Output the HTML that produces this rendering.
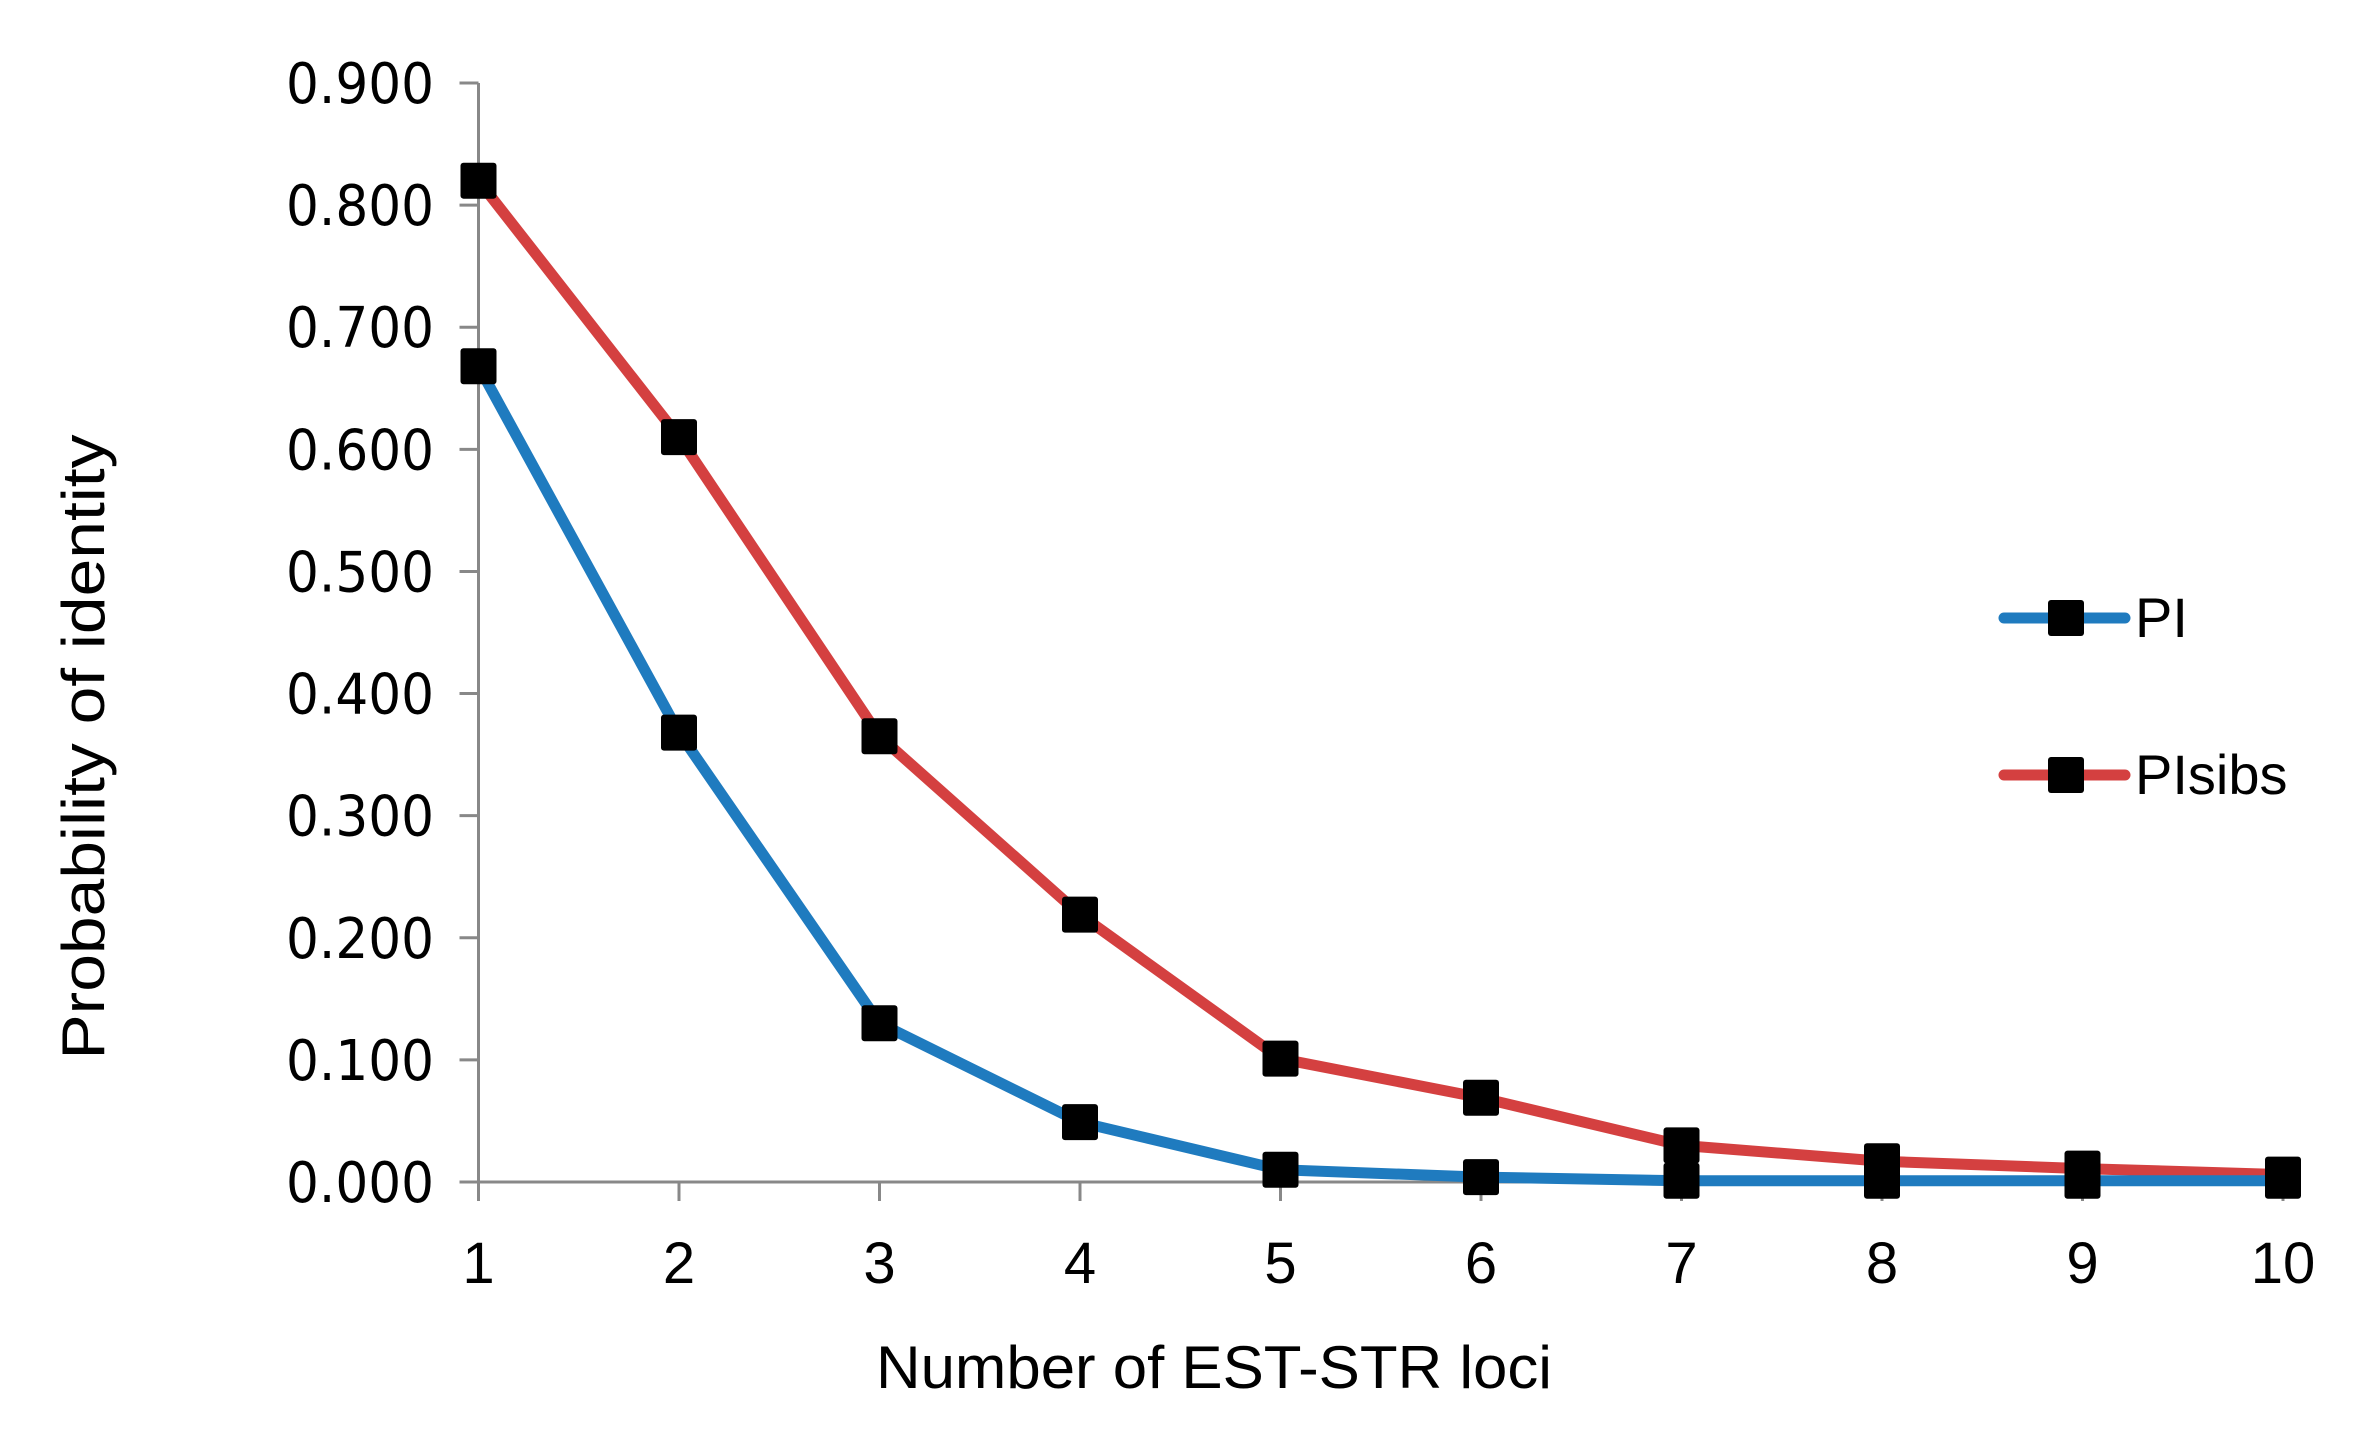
<!DOCTYPE html>
<html><head><meta charset="utf-8"><style>
html,body{margin:0;padding:0;background:#fff;}
svg{display:block;}
</style></head><body>
<svg id="chart" width="2367" height="1441" viewBox="0 0 2367 1441" xmlns="http://www.w3.org/2000/svg"></svg>
<script>
const categories=[1,2,3,4,5,6,7,8,9,10];
const piValues=[0.668,0.368,0.130,0.049,0.010,0.004,0.001,0.001,0.001,0.001];
const piSibsValues=[0.820,0.610,0.365,0.219,0.101,0.069,0.030,0.017,0.011,0.006];
const yTicks=[0,0.1,0.2,0.3,0.4,0.5,0.6,0.7,0.8,0.9];
const yTickLabels=["0.000","0.100","0.200","0.300","0.400","0.500","0.600","0.700","0.800","0.900"];
const seriesNames=["PI","PIsibs"];

const NS="http://www.w3.org/2000/svg";
const svg=document.getElementById('chart');
const X0=478.5,X1=2283,Y0=1182,Y1=83;
function xs(c){return X0+(c-1)/(9)*(X1-X0);}
function ys(v){return Y0-(v/0.9)*(Y0-Y1);}
function el(t,a,p){const e=document.createElementNS(NS,t);for(const k in a)e.setAttribute(k,a[k]);(p||svg).appendChild(e);return e;}

const axes=el('g',{});


const ya=el('line',{x1:X0,y1:Y1,x2:X0,y2:Y0,stroke:'#888','stroke-width':3},axes);


const xa=el('line',{x1:X0,y1:Y0,x2:X1+5,y2:Y0,stroke:'#888','stroke-width':3},axes);


yTicks.forEach((v,i)=>{
  const y=ys(v);
  el('line',{x1:X0-19,y1:y,x2:X0,y2:y,stroke:'#888','stroke-width':3},axes);
  const t=el('text',{x:434,y:y+20,'text-anchor':'end','font-family':'DejaVu Sans, sans-serif','font-size':56,fill:'#000',textLength:148,lengthAdjust:'spacingAndGlyphs'},axes);
  t.textContent=yTickLabels[i];
  
  
});
categories.forEach(c=>{
  const x=xs(c);
  el('line',{x1:x,y1:Y0,x2:x,y2:Y0+19,stroke:'#888','stroke-width':3},axes);
  const t=el('text',{x:x,y:1283,'text-anchor':'middle','font-family':'Liberation Sans, sans-serif','font-size':58,fill:'#000'},axes);
  t.textContent=String(c);
  
  
});
const xt=el('text',{x:1214,y:1388,'text-anchor':'middle','font-family':'Liberation Sans, sans-serif','font-size':60,fill:'#000',textLength:676,lengthAdjust:'spacingAndGlyphs'});
xt.textContent='Number of EST-STR loci';


const yt=el('text',{x:0,y:0,'text-anchor':'middle','font-family':'Liberation Sans, sans-serif','font-size':60,fill:'#000',textLength:625,lengthAdjust:'spacingAndGlyphs',transform:'translate(104,747) rotate(-90)'});
yt.textContent='Probability of identity';



function drawSeries(vals,color,name){
  const g=el('g',{});
  
  
  const pts=vals.map((v,i)=>xs(categories[i])+','+ys(v)).join(' ');
  const pl=el('polyline',{points:pts,fill:'none',stroke:color,'stroke-width':11,'stroke-linejoin':'round'},g);
  
  
  vals.forEach((v,i)=>{
    const r=el('rect',{x:xs(categories[i])-18,y:ys(v)-18,width:36,height:36,rx:3,fill:'#000'},g);
    
    
  });
}
drawSeries(piSibsValues,'#d44040','pisibs');
drawSeries(piValues,'#1f7bbf','pi');

const legend=el('g',{});


[['#1f7bbf',618,637],['#d44040',775,794]].forEach((d,i)=>{
  const g=el('g',{},legend);
  
  
  el('line',{x1:2004,y1:d[1],x2:2125,y2:d[1],stroke:d[0],'stroke-width':11,'stroke-linecap':'round'},g);
  el('rect',{x:2048,y:d[1]-18,width:36,height:36,rx:3,fill:'#000'},g);
  const t=el('text',{x:2135,y:d[2],'font-family':'Liberation Sans, sans-serif','font-size':56,fill:'#000'},g);
  t.textContent=seriesNames[i];
});
</script>
</body></html>
